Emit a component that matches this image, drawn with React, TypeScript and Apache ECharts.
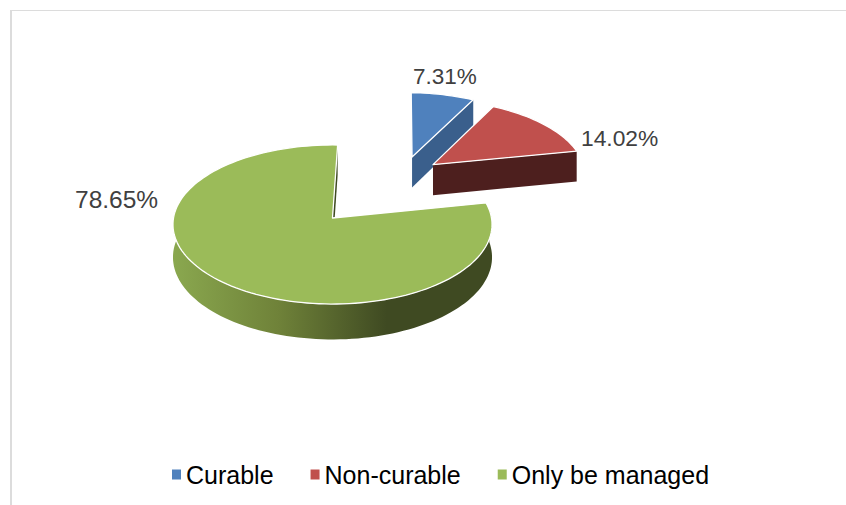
import React, { useEffect, useRef } from "react";
import * as echarts from "echarts";

const categories = ["Curable", "Non-curable", "Only be managed"];
const percentages = [7.31, 14.02, 78.65];

const topColors = ["#4F81BD", "#C0504D", "#9BBB59"];
const wallColors = ["#3A5F8C", "#4D1F1E", "#3F4A22"];

const FONT = '"Liberation Sans", Arial, sans-serif';
const LAYOUT = {
  cx: 332.5, cy: 218, rx: 159, ry: 79, k: 0.0818, depth: 32.5, startDeg: 2,
  explodeX: [0.534, 0.669, 0], explodeY: [0.824, 0.715, 0],
  labelX: [413, 581, 75], labelY: [76, 138, 199], labelSize: [22.5, 22.8, 24.5], z: [3, 4, 2],
};

const total = percentages.reduce((a, b) => a + b, 0);
const sliceRange = (i: number): [number, number] => {
  const before = percentages.slice(0, i).reduce((a, b) => a + b, 0);
  const a = LAYOUT.startDeg + (before / total) * 360;
  return [a, a + (percentages[i] / total) * 360];
};

const project = (X: number, Y: number, h = 0): number[] => {
  const d = 1 + LAYOUT.k * Y;
  return [LAYOUT.cx + (LAYOUT.rx * X) / d, LAYOUT.cy + (-LAYOUT.ry * Y + h) / d];
};

const renderSlice = (i: number) => (_params: any, api: any) => {
  const value = api.value(0) as number;
  const [a0, a1] = sliceRange(i);
  const ox = LAYOUT.explodeX[i];
  const oy = LAYOUT.explodeY[i];
  const rim = (deg: number, h = 0) => {
    const t = (deg * Math.PI) / 180;
    return project(ox + Math.sin(t), oy + Math.cos(t), h);
  };
  const apex = (h = 0) => project(ox, oy, h);
  const arc = (from: number, to: number, h = 0) => {
    const n = Math.max(2, Math.ceil(Math.abs(to - from) / 2));
    return Array.from({ length: n + 1 }, (_, j) => rim(from + ((to - from) * j) / n, h));
  };
  const children: any[] = [];
  if (i === 2) {
    const w0 = 84;
    const w1 = 277;
    children.push({
      type: "polygon",
      shape: { points: [...arc(w0, w1), ...arc(w1, w0, LAYOUT.depth)] },
      style: {
        fill: new echarts.graphic.LinearGradient(0, 0, 1, 0, [
          { offset: 0, color: "#8AA84F" },
          { offset: 0.33, color: "#6F8239" },
          { offset: 0.67, color: "#3F4A22" },
          { offset: 1, color: "#3F4A22" },
        ]),
      },
    });
  }
  children.push({
    type: "polygon",
    shape: { points: [apex(), rim(a1), rim(a1, LAYOUT.depth), apex(LAYOUT.depth)] },
    style: { fill: wallColors[i] },
  });
  children.push({
    type: "polygon",
    shape: { points: [apex(), ...arc(a0, a1)] },
    style: { fill: topColors[i], stroke: "#FFFFFF", lineWidth: 1.3, lineJoin: "round" },
  });
  children.push({
    type: "text",
    style: {
      text: value.toFixed(2) + "%",
      x: LAYOUT.labelX[i],
      y: LAYOUT.labelY[i],
      fill: "#404040",
      fontSize: LAYOUT.labelSize[i],
      fontFamily: FONT,
      align: "left",
      verticalAlign: "middle",
    },
  });
  return { type: "group", children };
};

export default function App() {
  const ref = useRef<HTMLDivElement>(null);
  useEffect(() => {
    document.body.style.margin = "0";
    const chart = echarts.init(ref.current!, undefined, { renderer: "svg" });
    chart.setOption({
      animation: false,
      backgroundColor: "#FFFFFF",
      legend: {
        data: categories,
        left: 167,
        top: 457,
        icon: "rect",
        itemWidth: 9,
        itemHeight: 10,
        itemGap: 37,
        selectedMode: false,
        textStyle: { fontSize: 25, fontFamily: FONT, color: "#000000" },
      },
      graphic: [
        { type: "rect", silent: true, shape: { x: 10, y: 10, width: 2, height: 495 }, style: { fill: "#DCDCDC" } },
        { type: "rect", silent: true, shape: { x: 10, y: 10, width: 836, height: 1 }, style: { fill: "#DCDCDC" } },
      ],
      series: categories.map((name, i) => ({
        type: "custom",
        name,
        coordinateSystem: "none",
        silent: true,
        z: LAYOUT.z[i],
        itemStyle: { color: topColors[i] },
        data: [percentages[i]],
        renderItem: renderSlice(i),
      })),
    });
    return () => chart.dispose();
  }, []);
  return <div ref={ref} style={{ position: "fixed", left: 0, top: 0, width: 846, height: 505 }} />;
}
